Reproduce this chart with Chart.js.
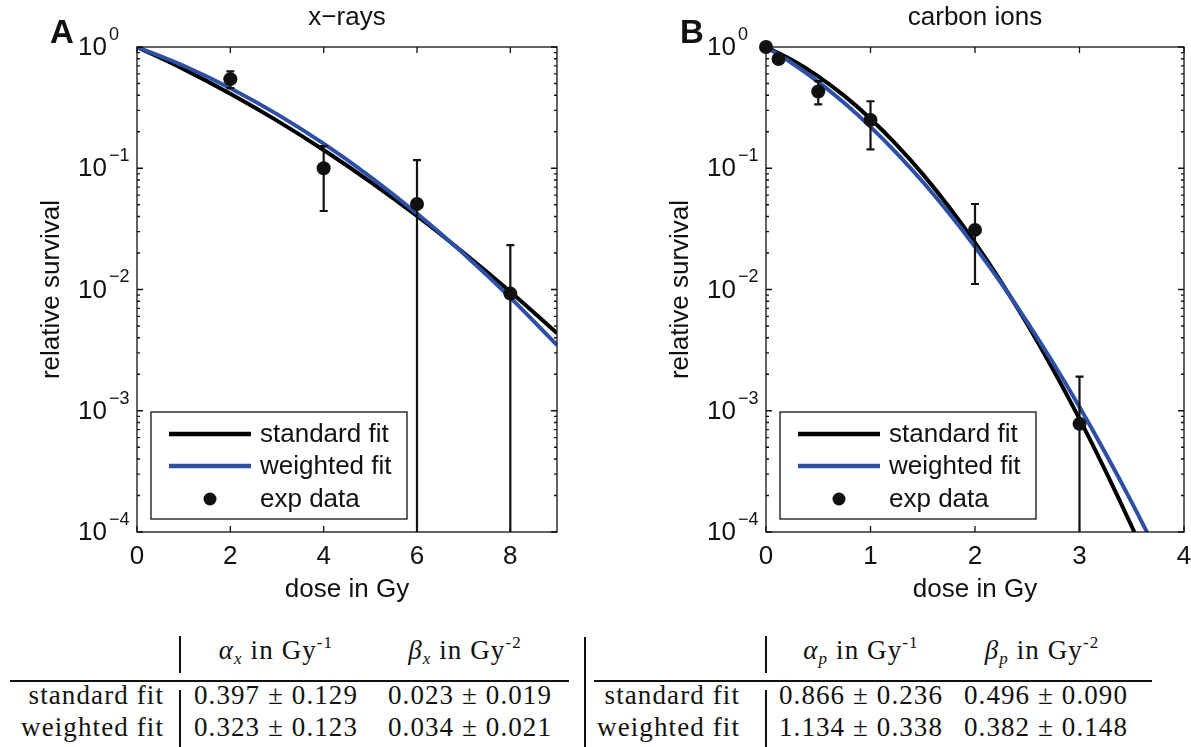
<!DOCTYPE html>
<html lang="en">
<head>
<meta charset="UTF-8">
<title>Relative survival: x-rays vs carbon ions</title>
<script src="https://cdn.jsdelivr.net/npm/chart.js"></script>
<style>
    body {
        margin: 0;
        width: 1191px;
        height: 747px;
        position: relative;
        overflow: hidden;
        background: #fff;
        font-family: 'Liberation Sans', Arial, sans-serif;
    }
    .panel { position: absolute; top: 0; height: 620px; }
    #panelA { left: 0; width: 590px; }
    #panelB { left: 590px; width: 601px; }
    .t {
        position: absolute;
        font-family: 'Liberation Serif', 'DejaVu Serif', serif;
        font-size: 27px;
        letter-spacing: 1.1px;
        color: #111;
        white-space: nowrap;
        line-height: 1;
    }
    .c { transform: translate(-50%, -50%); }
    .r { transform: translate(-100%, -50%); }
    .t sub, .t sup { font-size: 17px; line-height: 0; }
    .t sub { vertical-align: -5px; }
    .t sup { vertical-align: 11px; }
    .bar { position: absolute; background: #111; }
</style>
</head>
<body>
<div class="panel" id="panelA"><canvas id="chartA" width="590" height="620"></canvas></div>
<div class="panel" id="panelB"><canvas id="chartB" width="601" height="620"></canvas></div>

<!-- table under panel A -->
<div class="bar" style="left:179px; top:636px; width:2px; height:37px;"></div>
<div class="bar" style="left:10px; top:680px; width:559px; height:2px;"></div>
<div class="bar" style="left:179px; top:690px; width:2px; height:57px;"></div>
<div class="t c" style="left:276px; top:650px;"><i>α</i><sub><i>x</i></sub> in Gy<sup>-1</sup></div>
<div class="t c" style="left:465px; top:650px;"><i>β</i><sub><i>x</i></sub> in Gy<sup>-2</sup></div>
<div class="t r" style="left:164px; top:695px;">standard fit</div>
<div class="t r" style="left:164px; top:727px;">weighted fit</div>
<div class="t c" style="left:276px; top:695px;">0.397 ± 0.129</div>
<div class="t c" style="left:470px; top:695px;">0.023 ± 0.019</div>
<div class="t c" style="left:276px; top:727px;">0.323 ± 0.123</div>
<div class="t c" style="left:470px; top:727px;">0.034 ± 0.021</div>

<div class="bar" style="left:584px; top:637px; width:2px; height:110px;"></div>

<!-- table under panel B -->
<div class="bar" style="left:765px; top:636px; width:2px; height:37px;"></div>
<div class="bar" style="left:594px; top:680px; width:558px; height:2px;"></div>
<div class="bar" style="left:765px; top:690px; width:2px; height:57px;"></div>
<div class="t c" style="left:861px; top:650px;"><i>α</i><sub><i>p</i></sub> in Gy<sup>-1</sup></div>
<div class="t c" style="left:1042px; top:650px;"><i>β</i><sub><i>p</i></sub> in Gy<sup>-2</sup></div>
<div class="t r" style="left:740px; top:695px;">standard fit</div>
<div class="t r" style="left:740px; top:727px;">weighted fit</div>
<div class="t c" style="left:861px; top:695px;">0.866 ± 0.236</div>
<div class="t c" style="left:1046px; top:695px;">0.496 ± 0.090</div>
<div class="t c" style="left:861px; top:727px;">1.134 ± 0.338</div>
<div class="t c" style="left:1046px; top:727px;">0.382 ± 0.148</div>

<script>
    // ---- panel A: x-rays ----
    const doseA = [0, 1, 2, 3, 4, 5, 6, 7, 8, 9];
    const standardA = [1, 0.657, 0.412, 0.247, 0.1414, 0.0773, 0.0404, 0.0201, 0.00958, 0.00436];
    const weightedA = [1, 0.700, 0.4575, 0.2794, 0.1594, 0.0850, 0.0423, 0.0197, 0.00857, 0.00348];
    const expDoseA = [2, 4, 6, 8];
    const expA = [0.543, 0.100, 0.0507, 0.00925];
    const errLowA = [0.458, 0.0444, 0.00001, 0.00001];
    const errHighA = [0.63, 0.152, 0.1165, 0.0232];
    const xTicksA = [0, 2, 4, 6, 8];

    // ---- panel B: carbon ions ----
    const doseB = [0, 0.25, 0.5, 0.75, 1, 1.25, 1.5, 1.75, 2, 2.25, 2.5, 2.75, 3, 3.25, 3.5, 3.75];
    const standardB = [1, 0.781, 0.573, 0.395, 0.256, 0.156, 0.0894, 0.0481, 0.0243, 0.01157, 0.00517, 0.00217, 0.000857, 0.000318, 0.000111, 0.0000363];
    const weightedB = [1, 0.735, 0.516, 0.3446, 0.2196, 0.1334, 0.0773, 0.0427, 0.02246, 0.01127, 0.00539, 0.002461, 0.001072, 0.000444, 0.0001755, 0.0000662];
    const expDoseB = [0, 0.12, 0.5, 1, 2, 3];
    const expB = [1.0, 0.796, 0.429, 0.2505, 0.031, 0.00078];
    const errLowB = [null, null, 0.336, 0.143, 0.0111, 0.00001];
    const errHighB = [null, null, 0.523, 0.357, 0.0507, 0.00191];
    const xTicksB = [0, 1, 2, 3, 4];

    // shared
    const yExponents = [0, -1, -2, -3, -4];
    const seriesNames = ['standard fit', 'weighted fit', 'exp data'];

    const BLUE = '#2d50a6';
    const INK = '#111';
    const SANS = "'Liberation Sans', Arial, sans-serif";

    const pts = (xs, ys) => xs.map((x, i) => ({ x: x, y: ys[i] }));

    // frame, matlab-style inward ticks, labels, legend and error bars
    const matlabAxes = {
        id: 'matlabAxes',
        beforeDatasetDraw(chart, args, opts) {
            if (args.index !== 0) return; // error bars go under the dots
            const { ctx, chartArea: a, scales: { x, y } } = chart;
            const ds = chart.data.datasets[0];
            ctx.save();
            ctx.beginPath();
            ctx.rect(a.left, a.top, a.right - a.left, a.bottom - a.top);
            ctx.clip();
            ctx.strokeStyle = INK;
            ctx.lineWidth = 2.2;
            opts.lo.forEach((lo, i) => {
                if (lo == null) return;
                const px = x.getPixelForValue(ds.data[i].x);
                const y1 = y.getPixelForValue(lo);
                const y2 = y.getPixelForValue(opts.hi[i]);
                ctx.beginPath();
                ctx.moveTo(px, y1); ctx.lineTo(px, y2);
                ctx.moveTo(px - 4, y1); ctx.lineTo(px + 4, y1);
                ctx.moveTo(px - 4, y2); ctx.lineTo(px + 4, y2);
                ctx.stroke();
            });
            ctx.restore();
        },
        afterDraw(chart, args, opts) {
            const { ctx, chartArea: a, scales: { x, y } } = chart;
            ctx.save();
            ctx.strokeStyle = INK;
            ctx.fillStyle = INK;
            ctx.lineWidth = 1.3;
            ctx.strokeRect(a.left, a.top, a.right - a.left, a.bottom - a.top);

            // ticks
            ctx.beginPath();
            opts.xTicks.forEach(v => {
                const px = x.getPixelForValue(v);
                ctx.moveTo(px, a.bottom); ctx.lineTo(px, a.bottom - 6);
                ctx.moveTo(px, a.top); ctx.lineTo(px, a.top + 6);
            });
            yExponents.forEach(e => {
                const py = y.getPixelForValue(Math.pow(10, e));
                ctx.moveTo(a.left, py); ctx.lineTo(a.left + 6, py);
                ctx.moveTo(a.right, py); ctx.lineTo(a.right - 6, py);
                if (e === 0) return;
                for (let m = 2; m <= 9; m++) {
                    const pm = y.getPixelForValue(m * Math.pow(10, e));
                    ctx.moveTo(a.left, pm); ctx.lineTo(a.left + 3, pm);
                    ctx.moveTo(a.right, pm); ctx.lineTo(a.right - 3, pm);
                }
            });
            ctx.stroke();

            // tick labels
            ctx.font = '26px ' + SANS;
            ctx.textAlign = 'center';
            ctx.textBaseline = 'middle';
            opts.xTicks.forEach(v => ctx.fillText(String(v), x.getPixelForValue(v), a.bottom + 25));
            yExponents.forEach(e => {
                const py = y.getPixelForValue(Math.pow(10, e));
                ctx.font = '26px ' + SANS;
                ctx.textAlign = 'right';
                ctx.fillText('10', a.left - 30, py + 1);
                ctx.font = '18px ' + SANS;
                ctx.textAlign = 'left';
                ctx.fillText(e === 0 ? '0' : '\u2212' + (-e), a.left - 28, py - 12);
            });

            // axis titles and plot title
            ctx.font = '26px ' + SANS;
            ctx.textAlign = 'center';
            const cx = (a.left + a.right) / 2;
            ctx.fillText('dose in Gy', cx, a.bottom + 58);
            ctx.fillText(opts.title, cx, 18);
            ctx.save();
            ctx.translate(a.left - 85, (a.top + a.bottom) / 2);
            ctx.rotate(-Math.PI / 2);
            ctx.fillText('relative survival', 0, 0);
            ctx.restore();

            // panel letter
            ctx.font = 'bold 33px ' + SANS;
            ctx.textAlign = 'left';
            ctx.textBaseline = 'alphabetic';
            ctx.fillText(opts.letter, opts.letterX, 43);

            // legend box
            const bx = a.left + 14, bw = 256, bh = 107, by = a.bottom - 13 - bh;
            ctx.fillStyle = '#fff';
            ctx.fillRect(bx, by, bw, bh);
            ctx.lineWidth = 1.3;
            ctx.strokeRect(bx, by, bw, bh);
            const rows = [by + 22, by + 54, by + 87];
            const ds = chart.data.datasets;
            ctx.lineWidth = 4.5;
            [2, 1].forEach((di, k) => {
                ctx.strokeStyle = ds[di].borderColor;
                ctx.beginPath();
                ctx.moveTo(bx + 18, rows[k]); ctx.lineTo(bx + 100, rows[k]);
                ctx.stroke();
            });
            ctx.fillStyle = INK;
            ctx.beginPath();
            ctx.arc(bx + 59, rows[2], 6.5, 0, Math.PI * 2);
            ctx.fill();
            ctx.font = '26px ' + SANS;
            ctx.textBaseline = 'middle';
            seriesNames.forEach((n, k) => ctx.fillText(n, bx + 109, rows[k] + 1));
            ctx.restore();
        }
    };

    function makeChart(id, cfg) {
        return new Chart(document.getElementById(id), {
            type: 'line',
            data: {
                datasets: [{
                    label: seriesNames[2],
                    data: pts(cfg.expDose, cfg.exp),
                    showLine: false,
                    pointRadius: 7,
                    pointBackgroundColor: INK,
                    pointBorderWidth: 0,
                    clip: false
                }, {
                    label: seriesNames[1],
                    data: pts(cfg.dose, cfg.weighted),
                    borderColor: BLUE,
                    borderWidth: 4,
                    pointRadius: 0,
                    cubicInterpolationMode: 'monotone'
                }, {
                    label: seriesNames[0],
                    data: pts(cfg.dose, cfg.standard),
                    borderColor: '#000',
                    borderWidth: 4,
                    pointRadius: 0,
                    cubicInterpolationMode: 'monotone'
                }]
            },
            options: {
                responsive: false,
                animation: false,
                events: [],
                layout: { padding: cfg.padding },
                plugins: {
                    legend: { display: false },
                    tooltip: { enabled: false },
                    matlabAxes: {
                        lo: cfg.lo, hi: cfg.hi, xTicks: cfg.xTicks,
                        title: cfg.title, letter: cfg.letter, letterX: cfg.letterX
                    }
                },
                scales: {
                    x: {
                        type: 'linear', min: 0, max: cfg.xMax,
                        ticks: { display: false }, grid: { display: false }, border: { display: false },
                        afterFit: s => { s.height = 0; }
                    },
                    y: {
                        type: 'logarithmic', min: 1e-4, max: 1,
                        ticks: { display: false }, grid: { display: false }, border: { display: false },
                        afterFit: s => { s.width = 0; }
                    }
                }
            },
            plugins: [matlabAxes]
        });
    }

    makeChart('chartA', {
        dose: doseA, standard: standardA, weighted: weightedA,
        expDose: expDoseA, exp: expA, lo: errLowA, hi: errHighA,
        xTicks: xTicksA, xMax: 9, title: 'x\u2212rays', letter: 'A', letterX: 50,
        padding: { left: 137, right: 33, top: 47, bottom: 88 }
    });

    makeChart('chartB', {
        dose: doseB, standard: standardB, weighted: weightedB,
        expDose: expDoseB, exp: expB, lo: errLowB, hi: errHighB,
        xTicks: xTicksB, xMax: 4, title: 'carbon ions', letter: 'B', letterX: 90,
        padding: { left: 176, right: 7, top: 47, bottom: 88 }
    });
</script>
</body>
</html>
